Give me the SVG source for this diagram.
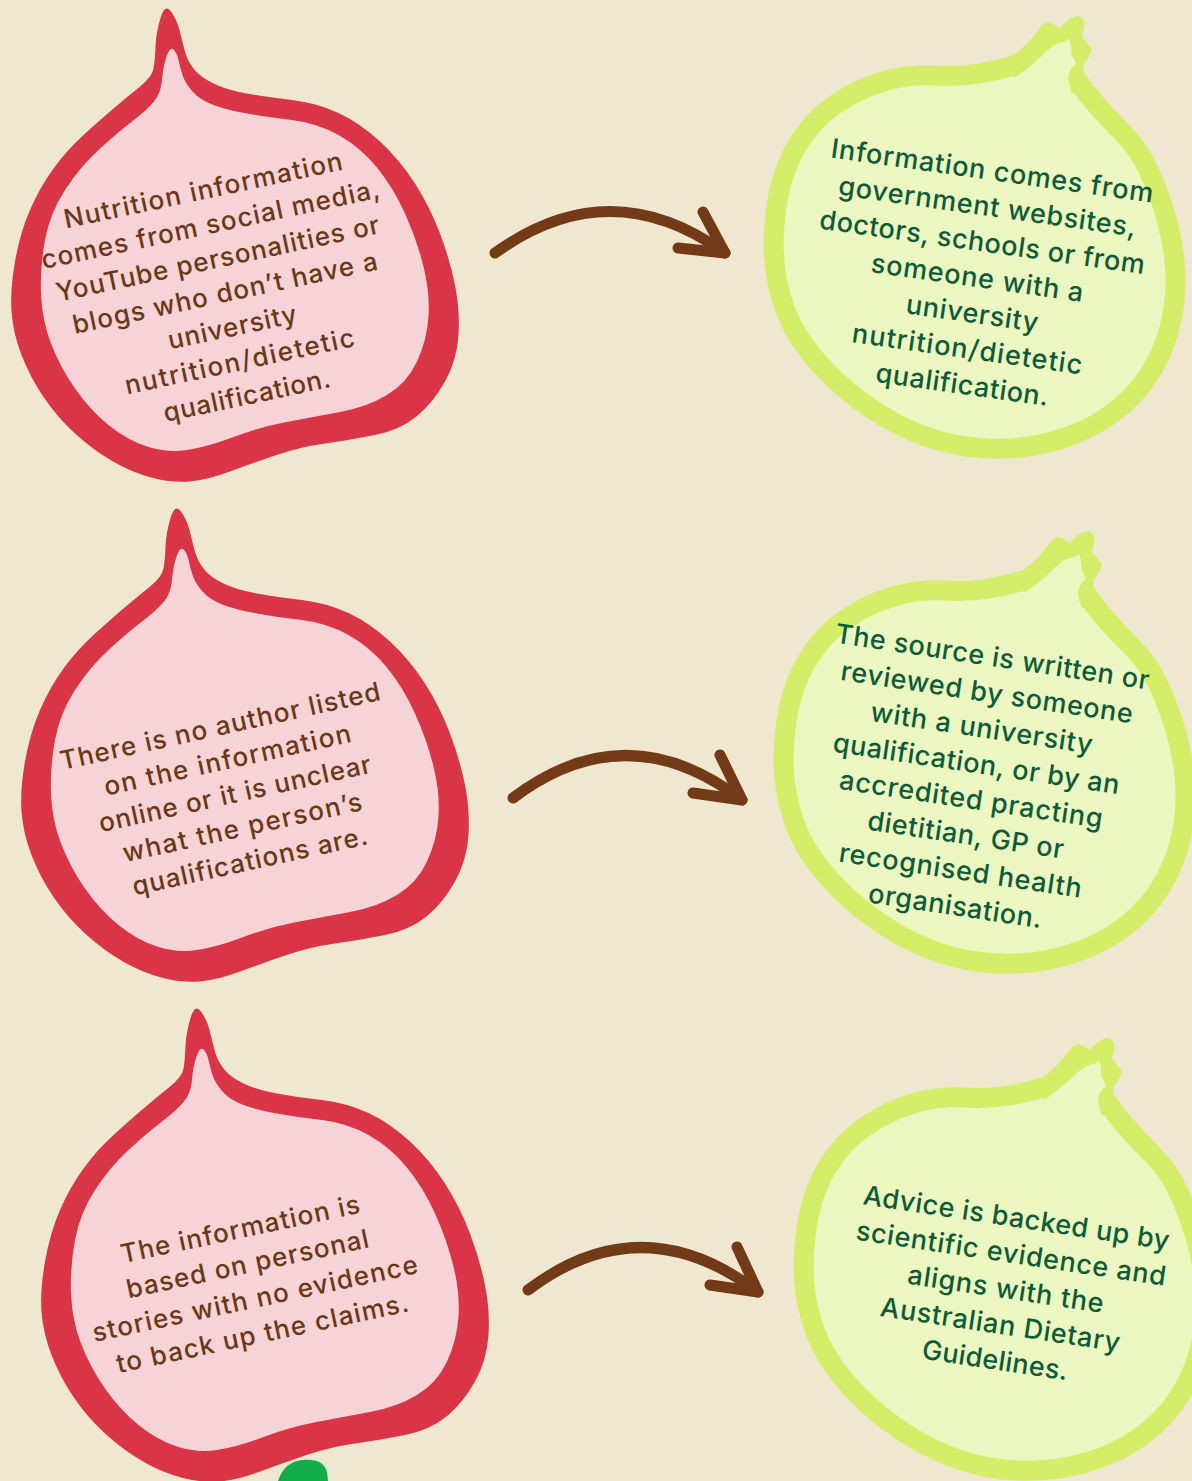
<svg xmlns="http://www.w3.org/2000/svg" xmlns:xlink="http://www.w3.org/1999/xlink" width="1192" height="1481" viewBox="0 0 1192 1481">
  <style>
    .rind { fill: #DA3547; }
    .flesh { fill: #F6D3D6; }
    .peel { fill: #ECF6C0; stroke: #D5EE6A; stroke-width: 20; }
    .peel-edge { fill: #D5EE6A; }
    .peel-in { fill: #ECF6C0; }
    .red-txt { font-family: Inter, "Noto Sans", "DejaVu Sans", sans-serif; font-size: 26px; font-weight: 500; fill: #6B3816; text-anchor: middle; }
    .green-txt { font-family: Inter, "Noto Sans", "DejaVu Sans", sans-serif; font-size: 27px; font-weight: 500; fill: #0E5B3A; text-anchor: middle; }
    .conn { fill: none; stroke: #723A16; stroke-width: 11; stroke-linecap: round; stroke-linejoin: round; }
  </style>
  <defs>
    <!-- red fruit: thick rind with a pointed stem, pale flesh inside -->
    <g id="red-fruit">
      <path class="rind" d="M160.5,18 Q156,33 155.5,46.5 Q155,60 153.5,68.5 Q152,77 139.5,87 Q127,97 113.5,108.5 Q100,120 83.5,135 Q67,150 53.5,168.5 Q40,187 30,210 Q20,233 15,261.5 Q10,290 11.5,311.5 Q13,333 21.5,355 Q30,377 43.5,397 Q57,417 75,433.5 Q93,450 113,461.5 Q133,473 153,478 Q173,483 190,481.5 Q207,480 230,471.5 Q253,463 276.5,455 Q300,447 325,443.5 Q350,440 375,435 Q400,430 416.5,416.5 Q433,403 445,381.5 Q457,360 458.5,335 Q460,310 455,285 Q450,260 440,233.5 Q430,207 415,183.5 Q400,160 380,141.5 Q360,123 338.5,113 Q317,103 292,100 Q267,97 247,93.5 Q227,90 213.5,83.5 Q200,77 193.5,68.5 Q187,60 184.5,50 Q182,40 179.5,30 Q177,20 171,11.5 Q165,3 160.5,18 Z"/>
      <path class="flesh" d="M166.5,56.5 Q163,67 162,80 Q161,93 154,101.5 Q147,110 132,121.5 Q117,133 98.5,150 Q80,167 65,190 Q50,213 45,240 Q40,267 41,293.5 Q42,320 51,343.5 Q60,367 75,388.5 Q90,410 108.5,425 Q127,440 147,446.5 Q167,453 187,450 Q207,447 233.5,437 Q260,427 286.5,422 Q313,417 340,412 Q367,407 387,395 Q407,383 417,361.5 Q427,340 428.5,316.5 Q430,293 423.5,266.5 Q417,240 405,213.5 Q393,187 376.5,167 Q360,147 338.5,135 Q317,123 292,120 Q267,117 247,113.5 Q227,110 213.5,105 Q200,100 192.5,91.5 Q185,83 182.5,75 Q180,67 178.5,60 Q177,53 173.5,49.5 Q170,46 166.5,56.5 Z"/>
    </g>
    <!-- green fruit: round body with a small crown at the upper right -->
    <g id="green-fruit">
      <path class="peel" d="M775.5,214 Q780,175 796,147.5 Q812,120 836,104 Q860,88 885,81 Q910,74 934,75.5 Q958,77 979,73.5 Q1000,70 1017.5,64 Q1035,58 1051.5,62 Q1068,66 1076.5,79 Q1085,92 1096.5,105 Q1108,118 1123,133 Q1138,148 1148,169 Q1158,190 1165,213.5 Q1172,237 1174.5,261 Q1177,285 1173.5,308.5 Q1170,332 1161,352.5 Q1152,373 1138.5,389 Q1125,405 1106.5,417.5 Q1088,430 1064,438 Q1040,446 1015,448 Q990,450 966,446.5 Q942,443 918,433.5 Q894,424 871,408.5 Q848,393 829,374 Q810,355 797,334 Q784,313 777.5,283 Q771,253 775.5,214 Z"/>
      <path class="peel-edge" d="M995,66 Q1020,54 1036,33 Q1043,22 1049,22 Q1055,25 1060,28 Q1068,18 1077,16 Q1086,17 1084,28 L1082,37 Q1087,43 1092,49 Q1090,57 1084,64 Q1080,73 1094,94 L1040,92 Z"/>
      <path class="peel-in" d="M1003,86 Q1030,68 1046,52 Q1056,42 1064,42 L1069,39 Q1072,46 1071,53 Q1074,60 1076,64 Q1069,69 1068,78 Q1070,92 1077,104 L1030,110 Z"/>
    </g>
  </defs>

  <rect width="1192" height="1481" fill="#EFE7CF"/>

  <g id="connectors">
    <g id="arrow-1">
      <path class="conn" d="M495,253 Q610,170 725,253"/>
      <path class="conn" d="M703,212 L725,253 L678,248"/>
    </g>
    <g id="arrow-2">
      <path class="conn" d="M513,798 Q627,712 742,800"/>
      <path class="conn" d="M720,755 L742,800 L693,793"/>
    </g>
    <g id="arrow-3">
      <path class="conn" d="M528,1290 Q642,1204 758,1292"/>
      <path class="conn" d="M737,1247 L758,1292 L710,1285"/>
    </g>
  </g>

  <g id="node-myth-1">
    <use href="#red-fruit"/>
    <g transform="rotate(-12 205 199)">
      <text class="red-txt" x="205" y="199" textLength="284" lengthAdjust="spacing">Nutrition information</text>
      <text class="red-txt" x="205" y="234" textLength="345" lengthAdjust="spacing">comes from social media,</text>
      <text class="red-txt" x="205" y="269" textLength="330" lengthAdjust="spacing">YouTube personalities or</text>
      <text class="red-txt" x="205" y="304" textLength="311" lengthAdjust="spacing">blogs who don’t have a</text>
      <text class="red-txt" x="205" y="339" textLength="131" lengthAdjust="spacing">university</text>
      <text class="red-txt" x="205" y="374" textLength="234" lengthAdjust="spacing">nutrition/dietetic</text>
      <text class="red-txt" x="205" y="409" textLength="170" lengthAdjust="spacing">qualification.</text>
    </g>
  </g>

  <g id="node-fact-1">
    <use href="#green-fruit"/>
    <g transform="rotate(8 991 180)">
      <text class="green-txt" x="991" y="180" textLength="325" lengthAdjust="spacing">Information comes from</text>
      <text class="green-txt" x="991" y="216" textLength="300" lengthAdjust="spacing">government websites,</text>
      <text class="green-txt" x="991" y="252" textLength="328" lengthAdjust="spacing">doctors, schools or from</text>
      <text class="green-txt" x="991" y="288" textLength="214" lengthAdjust="spacing">someone with a</text>
      <text class="green-txt" x="991" y="324" textLength="133" lengthAdjust="spacing">university</text>
      <text class="green-txt" x="991" y="360" textLength="232" lengthAdjust="spacing">nutrition/dietetic</text>
      <text class="green-txt" x="991" y="396" textLength="174" lengthAdjust="spacing">qualification.</text>
    </g>
  </g>

  <g id="node-myth-2">
    <use href="#red-fruit" transform="translate(10 500)"/>
    <g transform="rotate(-12.4 222 735)">
      <text class="red-txt" x="222" y="735" textLength="327" lengthAdjust="spacing">There is no author listed</text>
      <text class="red-txt" x="222" y="769.5" textLength="252" lengthAdjust="spacing">on the information</text>
      <text class="red-txt" x="222" y="804" textLength="278" lengthAdjust="spacing">online or it is unclear</text>
      <text class="red-txt" x="222" y="838.5" textLength="244" lengthAdjust="spacing">what the person’s</text>
      <text class="red-txt" x="222" y="873" textLength="240" lengthAdjust="spacing">qualifications are.</text>
    </g>
  </g>

  <g id="node-fact-2">
    <use href="#green-fruit" transform="translate(10 515)"/>
    <g transform="rotate(8.5 991 666)">
      <text class="green-txt" x="991" y="666" textLength="317" lengthAdjust="spacing">The source is written or</text>
      <text class="green-txt" x="991" y="702" textLength="295" lengthAdjust="spacing">reviewed by someone</text>
      <text class="green-txt" x="991" y="738" textLength="224" lengthAdjust="spacing">with a university</text>
      <text class="green-txt" x="991" y="774" textLength="289" lengthAdjust="spacing">qualification, or by an</text>
      <text class="green-txt" x="991" y="810" textLength="266" lengthAdjust="spacing">accredited practing</text>
      <text class="green-txt" x="991" y="846" textLength="198" lengthAdjust="spacing">dietitian, GP or</text>
      <text class="green-txt" x="991" y="882" textLength="245" lengthAdjust="spacing">recognised health</text>
      <text class="green-txt" x="991" y="918" textLength="175" lengthAdjust="spacing">organisation.</text>
    </g>
  </g>

  <g id="node-myth-3">
    <use href="#red-fruit" transform="translate(30 1000)"/>
    <g transform="rotate(-12 242 1238)">
      <text class="red-txt" x="242" y="1238" textLength="244" lengthAdjust="spacing">The information is</text>
      <text class="red-txt" x="242" y="1273.5" textLength="247" lengthAdjust="spacing">based on personal</text>
      <text class="red-txt" x="242" y="1309" textLength="332" lengthAdjust="spacing">stories with no evidence</text>
      <text class="red-txt" x="242" y="1344.5" textLength="298" lengthAdjust="spacing">to back up the claims.</text>
    </g>
  </g>

  <g id="node-fact-3">
    <use href="#green-fruit" transform="translate(30 1022)"/>
    <g transform="rotate(8.5 1015 1227)">
      <text class="green-txt" x="1015" y="1227" textLength="309" lengthAdjust="spacing">Advice is backed up by</text>
      <text class="green-txt" x="1015" y="1263" textLength="313" lengthAdjust="spacing">scientific evidence and</text>
      <text class="green-txt" x="1015" y="1299" textLength="198" lengthAdjust="spacing">aligns with the</text>
      <text class="green-txt" x="1015" y="1335" textLength="242" lengthAdjust="spacing">Australian Dietary</text>
      <text class="green-txt" x="1015" y="1371" textLength="147" lengthAdjust="spacing">Guidelines.</text>
    </g>
  </g>

  <!-- green leaf peeking in at the bottom edge -->
  <path id="leaf" d="M278,1481 C283,1466 292,1461 303,1460 C318,1459 324,1463 327,1472 L328,1481 Z" fill="#12AD4B"/>
</svg>
